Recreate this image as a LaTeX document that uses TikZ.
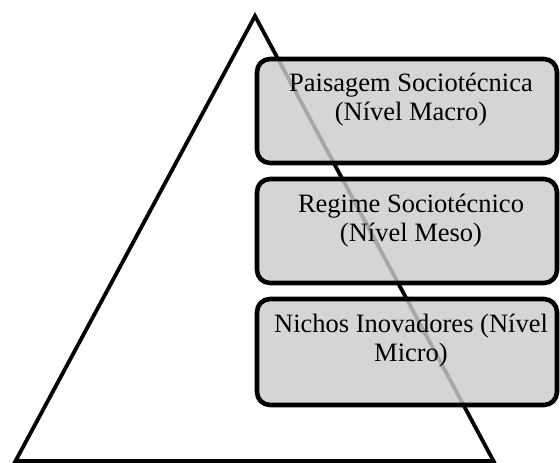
\documentclass[tikz,border=0pt]{standalone}
\usepackage{fontspec}
\setmainfont{Liberation Serif}
\usetikzlibrary{calc}
\begin{document}
\begin{tikzpicture}[x=1pt,y=-1pt,
  levelbox/.style={draw=black, line width=4.6pt, rounded corners=13pt,
    fill={rgb,255:red,204;green,204;blue,204}, fill opacity=0.82,
    minimum width=300pt, minimum height=104pt, inner sep=0pt},
  leveltext/.style={font=\fontsize{26.5}{29.5}\selectfont, align=center,
    anchor=base, inner sep=0pt, text=black}]
  \useasboundingbox (0,0) rectangle (560,463);
  % the pyramid
  \coordinate (apex) at (255,16);
  \coordinate (bl) at (15.5,461);
  \coordinate (br) at (493.5,461);
  \draw[line width=3.8pt, line join=miter] (bl) -- (apex) -- (br) -- cycle;
  % the three levels
  \node[levelbox] (macro) at (407,111) {};
  \node[levelbox] (meso)  at (407,231) {};
  \node[levelbox, minimum height=106pt] (micro) at (407,352) {};
  % labels, placed by the baseline of their last line
  \node[leveltext] (macrot) at ($(macro.north)+(4,64)$) {Paisagem Sociotécnica\\(Nível Macro)};
  \node[leveltext] (mesot)  at ($(meso.north)+(4,65)$) {Regime Sociotécnico\\(Nível Meso)};
  \node[leveltext] (microt) at ($(micro.north)+(4,65)$) {Nichos Inovadores (Nível\\Micro)};
\end{tikzpicture}
\end{document}
